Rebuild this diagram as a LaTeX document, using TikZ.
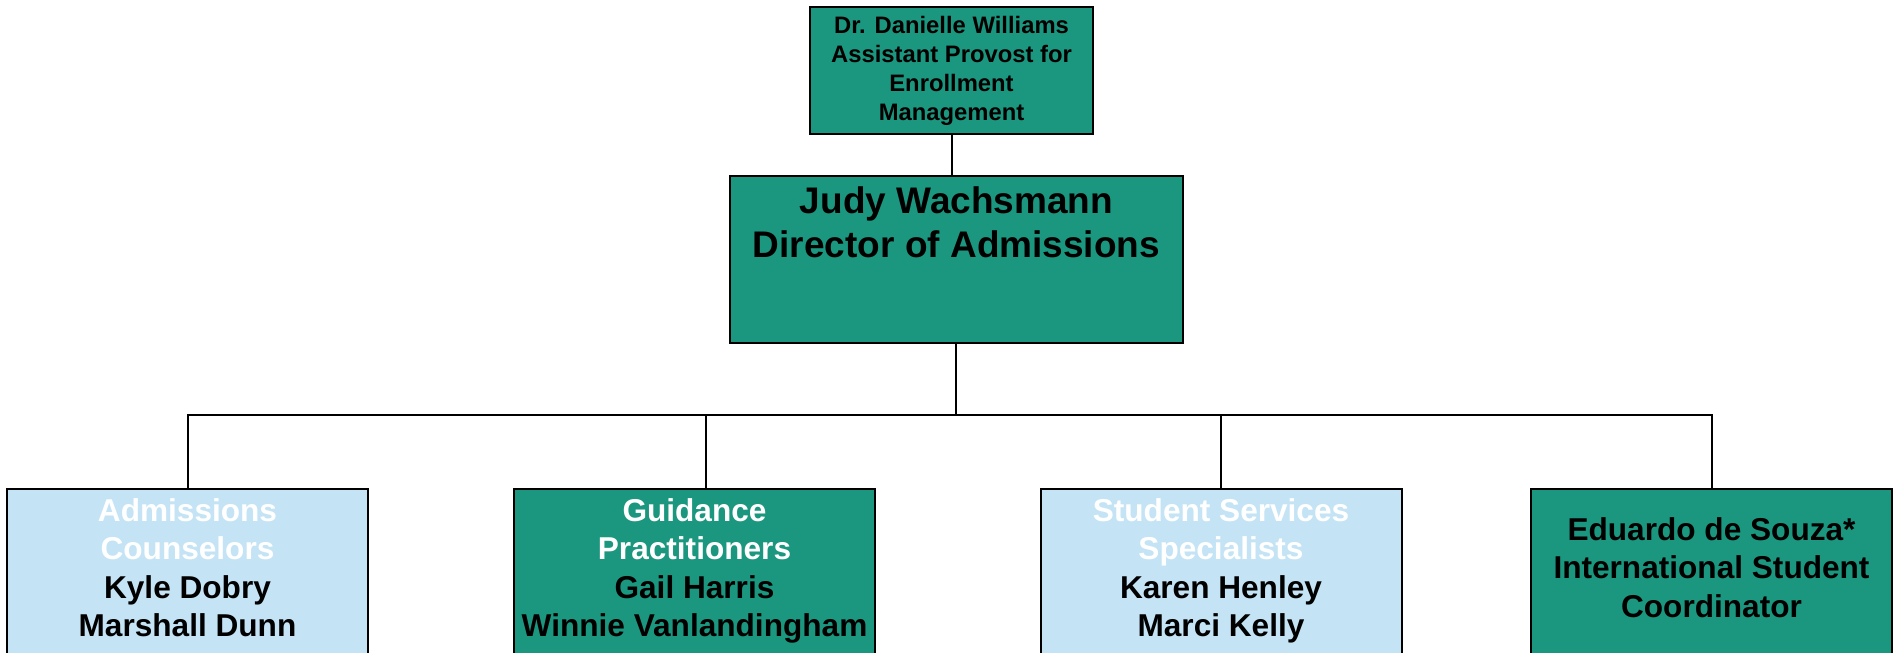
\documentclass[tikz,border=0pt]{standalone}
\usepackage{fontspec}
\setmainfont{Liberation Sans}
\usetikzlibrary{positioning}
\definecolor{orgteal}{RGB}{27,151,127}
\definecolor{orgblue}{RGB}{196,228,246}
\tikzset{
  unit/.style={rectangle,draw=black,line width=2pt,inner sep=0pt},
  tealunit/.style={unit,fill=orgteal},
  blueunit/.style={unit,fill=orgblue,minimum width=361pt,minimum height=260pt,anchor=north},
  lowunit/.style={tealunit,minimum width=361pt,minimum height=260pt,anchor=north},
  caption/.style={align=center,inner sep=0pt,anchor=north,font=\bfseries\fontsize{31.6}{38.3}\selectfont},
  link/.style={draw=black,line width=2pt}
}
\begin{document}
\begin{tikzpicture}[x=1pt,y=-1pt]
        \useasboundingbox (0,0) rectangle (1898,653);
        \clip (0,0) rectangle (1898,653);

		\node[tealunit,minimum width=283pt,minimum height=127pt] (provost) at (951.5,70.5) {};
		\node[tealunit,minimum width=453pt,minimum height=167pt] (director) at (956.5,259.5) {};
		\node[blueunit] (counsel) at (187.5,488) {};
		\node[lowunit] (guide) at (694.5,488) {};
		\node[blueunit] (service) at (1221,488) {};
		\node[lowunit] (intl) at (1711.5,488) {};

		\node[align=center,inner sep=0pt,font=\bfseries\fontsize{23.8}{29}\selectfont] (provosttxt) at (provost.center)
		  {Dr. Danielle Williams\\Assistant Provost for\\Enrollment\\Management};
		\node[align=center,inner sep=0pt,font=\bfseries\fontsize{37}{44}\selectfont] (directortxt) at (956.5,222)
		  {Judy Wachsmann\\Director of Admissions};
		\node[caption] (counseltxt) at (187.5,498.5) {\textcolor{white}{Admissions}\\\textcolor{white}{Counselors}\\Kyle Dobry\\Marshall Dunn};
		\node[caption] (guidetxt) at (694.5,498.5) {\textcolor{white}{Guidance}\\\textcolor{white}{Practitioners}\\Gail Harris\\Winnie Vanlandingham};
		\node[caption] (servicetxt) at (1221,498.5) {\textcolor{white}{Student Services}\\\textcolor{white}{Specialists}\\Karen Henley\\Marci Kelly};
		\node[caption] (intltxt) at (1711.5,517.5) {Eduardo de Souza*\\International Student\\Coordinator};

		% reporting lines
		\coordinate (bus) at (956,415);
		\coordinate (bus2) at (706,415);
		\path[link] (provost.south) -- (provost.south |- director.north);
		\path[link] (director.south -| bus) -- (bus);
		\path[link] (counsel.north) |- (bus) -| (intl.north);
		\path[link] (bus2) -- (bus2 |- guide.north);
		\path[link] (service.north) -- (service.north |- bus);

	\end{tikzpicture}
\end{document}
